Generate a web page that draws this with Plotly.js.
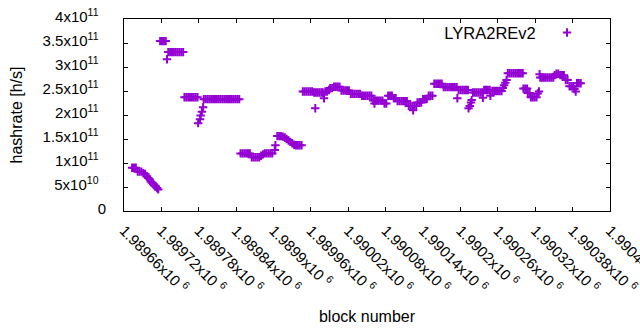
<!DOCTYPE html>
<html>
<head>
<meta charset="utf-8">
<script src="https://cdn.plot.ly/plotly-3.0.1.min.js"></script>
<style>html,body{margin:0;padding:0;background:#fff;}#chart{width:640px;height:330px;}</style>
</head>
<body>
<div id="chart"></div>
<script>
// block numbers
const blocks = [
1989673,1989676,1989679,1989682,1989685,1989688,1989691,1989694,1989697,1989699,1989701,1989703,1989705,1989707,1989709,1989711,1989713,1989715,
1989718,1989721,1989724,1989727,1989729,
1989731,1989734,1989737,1989740,1989743,1989746,1989749,1989752,1989755,
1989757,1989760,1989763,1989766,1989769,1989772,1989775,1989778,
1989779,1989782,1989783,1989785,1989787,
1989788,1989791,1989794,1989797,1989800,1989803,1989806,1989809,1989812,1989815,1989818,1989821,1989824,1989827,1989830,1989833,1989836,1989839,1989842,1989845,
1989847,1989850,1989853,1989856,1989859,1989862,
1989865,1989868,1989871,1989874,1989877,
1989880,1989883,
1989886,1989889,1989892,1989895,1989898,
1989902,1989903,
1989906,1989909,1989912,1989915,1989918,1989921,1989924,1989927,1989930,1989933,1989936,1989939,1989942,1989945,
1989947,1989950,1989953,1989956,1989959,1989962,1989965,1989967,1989968,1989971,1989974,1989977,1989979,1989981,1989983,1989986,1989989,1989991,1989994,1989997,
1990000,1990003,1990006,1990009,1990012,1990015,1990018,1990021,1990024,1990027,1990030,1990033,1990036,1990039,
1990042,1990045,1990048,1990051,1990054,1990057,
1990060,1990062,1990063,1990066,1990069,1990072,1990075,
1990078,1990081,
1990084,1990087,1990090,1990093,1990096,
1990099,1990102,1990105,1990108,1990111,1990114,
1990117,1990120,1990123,1990124,1990126,1990129,
1990131,1990134,1990137,
1990140,1990143,1990146,
1990149,1990152,1990155,
1990158,1990161,1990164,1990167,1990170,
1990173,1990176,1990179,1990182,1990185,1990188,1990191,1990194,
1990195,
1990197,1990200,1990203,1990206,1990209,1990212,
1990213,1990215,1990217,1990218,
1990220,1990223,1990226,1990229,1990232,1990235,
1990236,
1990238,1990241,1990244,1990247,
1990248,
1990251,1990254,1990257,1990260,1990263,1990266,
1990268,1990270,1990272,1990274,
1990276,1990279,1990282,1990285,1990288,1990291,1990294,1990297,1990300,
1990301,1990304,1990307,
1990308,1990311,
1990313,1990316,1990319,1990322,
1990324,1990326,
1990327,
1990328,1990331,1990334,1990337,1990340,1990343,1990346,1990349,
1990351,1990354,1990357,1990360,1990363,1990366,
1990369,1990372,
1990375,1990378,1990381,
1990383,1990385,
1990387,1990390,1990393
];
// hashrate in GH/s (x 1e9 h/s)
const hashrateG = [
90,90,90,82,82,82,79,77,72,69,66,61,59,56,53,51,48,45,
354,354,354,354,316,
331,331,331,331,331,331,331,331,331,
237,237,237,237,237,237,237,237,
183,191,199,207,216,
233,233,233,233,233,233,233,233,233,233,233,233,233,233,233,233,233,233,233,233,
120,120,120,120,120,120,
112,112,112,112,112,
115,118,
120,120,120,120,120,
127,137,
156,156,156,155,153,150,147,144,141,138,137,137,137,137,
249,249,249,249,249,249,247,214,247,247,247,247,247,235,249,249,252,256,256,259,
259,259,259,251,251,251,251,251,244,244,244,244,244,244,
240,240,240,240,240,240,
230,224,230,230,230,230,230,
224,224,
240,240,240,235,235,
229,229,229,229,229,229,
219,219,219,210,219,219,
226,226,226,
233,233,233,
240,240,240,
265,265,265,265,265,
258,258,258,258,258,258,258,258,
235,
252,252,252,252,252,252,
214,219,226,231,
247,247,247,247,247,247,
236,
252,252,252,252,
240,
250,250,250,250,250,250,
256,262,267,273,
287,287,287,287,287,287,287,287,287,
255,255,255,
246,246,
237,237,237,237,
245,249,
285,
278,278,278,278,278,278,278,278,
283,286,286,283,283,283,
273,273,
260,260,260,
254,249,
266,266,266
];
const seriesName = "LYRA2REv2";

const xTickVals = [1989660,1989720,1989780,1989840,1989900,1989960,1990020,1990080,1990140,1990200,1990260,1990320,1990380,1990440];
const xTickText = ["1.98966x10 <sup>6</sup>","1.98972x10 <sup>6</sup>","1.98978x10 <sup>6</sup>","1.98984x10 <sup>6</sup>","1.9899x10 <sup>6</sup>","1.98996x10 <sup>6</sup>","1.99002x10 <sup>6</sup>","1.99008x10 <sup>6</sup>","1.99014x10 <sup>6</sup>","1.9902x10 <sup>6</sup>","1.99026x10 <sup>6</sup>","1.99032x10 <sup>6</sup>","1.99038x10 <sup>6</sup>","1.99044x10 <sup>6</sup>"];
const yTickVals = [0,5e10,1e11,1.5e11,2e11,2.5e11,3e11,3.5e11,4e11];
const yTickText = ["0","5x10<sup>10</sup>\u2002","1x10<sup>11</sup>\u2002","1.5x10<sup>11</sup>\u2002","2x10<sup>11</sup>\u2002","2.5x10<sup>11</sup>\u2002","3x10<sup>11</sup>\u2002","3.5x10<sup>11</sup>\u2002","4x10<sup>11</sup>\u2002"];

const FONT = "Liberation Sans, Arial, sans-serif";
const PURPLE = "#9400d3";

const trace = {
  type: "scatter",
  mode: "markers",
  x: blocks,
  y: hashrateG.map(v => v * 1e9),
  name: "",
  showlegend: true,
  marker: {symbol: "cross-thin-open", size: 6, color: PURPLE, line: {color: PURPLE, width: 2}},
  hoverinfo: "x+y"
};

const axisCommon = {
  showline: true, mirror: "ticks", linecolor: "#000", linewidth: 1,
  ticks: "inside", ticklen: 4, tickcolor: "#000", tickwidth: 1,
  showgrid: false, zeroline: false,
  tickfont: {family: FONT, size: 15, color: "#000"}
};

const layout = {
  width: 640, height: 330,
  margin: {l: 124, r: 30, t: 19, b: 119, pad: 0},
  paper_bgcolor: "#fff", plot_bgcolor: "#fff",
  font: {family: FONT, size: 15, color: "#000"},
  showlegend: true,
  legend: {
    x: 0.655, y: 1.005, xanchor: "left", yanchor: "top",
    bgcolor: "rgba(0,0,0,0)", borderwidth: 0,
    font: {family: FONT, size: 8, color: "#000"},
    title: {text: seriesName + "\u2009", side: "left", font: {family: FONT, size: 16.5, color: "#000"}}
  },
  xaxis: Object.assign({}, axisCommon, {
    range: [1989660, 1990440],
    tickmode: "array", tickvals: xTickVals, ticktext: xTickText,
    tickangle: 45, ticklabelstandoff: 4, ticklabeloverflow: "allow",
    title: {text: "block number", font: {family: FONT, size: 16, color: "#000"}, standoff: 15}
  }),
  yaxis: Object.assign({}, axisCommon, {
    range: [0, 4e11],
    tickmode: "array", tickvals: yTickVals, ticktext: yTickText,
    ticklabelstandoff: 14, ticklabelshift: -2,
    title: {text: "hashrate [h/s]", font: {family: FONT, size: 16, color: "#000"}, standoff: 15}
  })
};

Plotly.newPlot("chart", [trace], layout, {displayModeBar: false, staticPlot: true});
</script>
</body>
</html>
